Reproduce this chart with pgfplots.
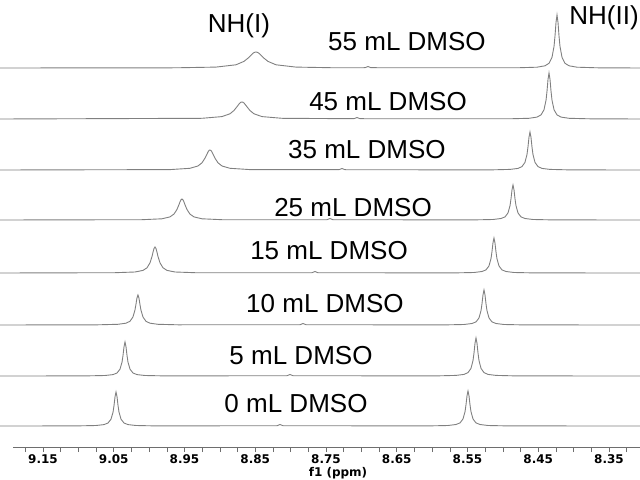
\documentclass[border=0pt]{standalone}
\usepackage{pgfplots}
\pgfplotsset{compat=1.18}
\usepackage{fontspec}
\setmainfont{Liberation Sans}
\newfontfamily\tickfont{DejaVu Sans}
\definecolor{trace}{RGB}{128,128,128}
\definecolor{axgray}{RGB}{110,110,110}
\tikzset{spec/.style={draw=trace, solid, line width=0.9pt, mark=none}}
\begin{document}
\begin{tikzpicture}
\begin{axis}[
  scale only axis, width=640pt, height=447pt,
  xmin=8.3062, xmax=9.2108, ymin=32, ymax=479,
  x dir=reverse,
  hide y axis,
  axis x line*=bottom,
  x axis line style={draw=none},
  clip=false,
  xtick={9.15,9.05,8.95,8.85,8.75,8.65,8.55,8.45,8.35},
  xticklabels={9.15,9.05,8.95,8.85,8.75,8.65,8.55,8.45,8.35},
  minor xtick={9.175,9.125,9.1,9.075,9.025,9.0,8.975,8.925,8.9,8.875,8.825,8.8,8.775,8.725,8.7,8.675,8.625,8.6,8.575,8.525,8.5,8.475,8.425,8.4,8.375,8.325},
  tick align=outside,
  major tick length=5pt, minor tick length=5pt,
  tick style={draw=axgray, line width=0.6pt},
  xticklabel style={font=\tickfont\bfseries\fontsize{12}{12}\selectfont, text=black, inner sep=2pt},
]
% 0 mL
\addplot[spec] coordinates {(9.2108,53)(9.1033,53.1)(9.0751,53.5)(9.0638,54.4)(9.0581,56.0)(9.0539,59.8)(9.0510,66.9)(9.0496,73.7)(9.0482,82.3)(9.0468,87)(9.0454,82.3)(9.0440,73.7)(9.0426,66.9)(9.0397,59.8)(9.0355,56.0)(9.0298,54.4)(9.0185,53.5)(8.9903,53.1)
(8.8192,53.3)(8.8150,54.5)(8.8108,53.3)
(8.6058,53.1)(8.5776,53.5)(8.5663,54.5)(8.5606,56.1)(8.5564,60.0)(8.5535,67.4)(8.5521,74.4)(8.5507,83.2)(8.5493,88)(8.5479,83.2)(8.5465,74.4)(8.5451,67.4)(8.5422,60.0)(8.5380,56.1)(8.5323,54.5)(8.5210,53.5)(8.4928,53.1)(8.3062,53)};
% 5 mL
\addplot[spec] coordinates {(9.2108,103)(9.0906,103.1)(9.0624,103.5)(9.0511,104.4)(9.0454,106.0)(9.0412,109.8)(9.0383,116.9)(9.0369,123.7)(9.0355,132.3)(9.0341,137)(9.0327,132.3)(9.0313,123.7)(9.0299,116.9)(9.0270,109.8)(9.0228,106.0)(9.0171,104.4)(9.0058,103.5)(8.9776,103.1)
(8.8051,103.3)(8.8009,104.5)(8.7967,103.3)
(8.5945,103.1)(8.5663,103.6)(8.5550,104.6)(8.5493,106.4)(8.5451,110.6)(8.5422,118.6)(8.5408,126.2)(8.5394,135.8)(8.5380,141)(8.5366,135.8)(8.5352,126.2)(8.5338,118.6)(8.5309,110.6)(8.5267,106.4)(8.5210,104.6)(8.5097,103.6)(8.4815,103.1)(8.3062,103)};
% 10 mL
\addplot[spec] coordinates {(9.2108,154)(9.0723,154.2)(9.0441,154.7)(9.0328,155.8)(9.0271,157.7)(9.0229,162.0)(9.0200,169)(9.0186,174.8)(9.0172,181)(9.0158,184)(9.0144,181)(9.0130,174.8)(9.0116,169)(9.0087,162.0)(9.0045,157.7)(8.9988,155.8)(8.9875,154.7)(8.9593,154.2)
(8.7867,154.3)(8.7825,155.5)(8.7783,154.3)
(8.5832,154.1)(8.5550,154.5)(8.5437,155.5)(8.5380,157.1)(8.5338,161.0)(8.5309,168.4)(8.5295,175.4)(8.5281,184.2)(8.5267,189)(8.5253,184.2)(8.5239,175.4)(8.5225,168.4)(8.5196,161.0)(8.5154,157.1)(8.5097,155.5)(8.4984,154.5)(8.4702,154.1)(8.3062,154)};
% 15 mL
\addplot[spec] coordinates {(9.2108,206)(9.0482,206.3)(9.0200,207.0)(9.0087,208.6)(9.0030,211.2)(8.9988,216.1)(8.9959,222.6)(8.9945,226.8)(8.9931,230.5)(8.9917,232)(8.9903,230.5)(8.9889,226.8)(8.9875,222.6)(8.9846,216.1)(8.9804,211.2)(8.9747,208.6)(8.9634,207.0)(8.9352,206.3)
(8.7698,206.3)(8.7656,207.5)(8.7614,206.3)
(8.5691,206.1)(8.5409,206.5)(8.5296,207.5)(8.5239,209.1)(8.5197,213.0)(8.5168,220.4)(8.5154,227.4)(8.5140,236.2)(8.5126,241)(8.5112,236.2)(8.5098,227.4)(8.5084,220.4)(8.5055,213.0)(8.5013,209.1)(8.4956,207.5)(8.4843,206.5)(8.4561,206.1)(8.3062,206)};
% 25 mL
\addplot[spec] coordinates {(9.2108,259)(9.0101,259.3)(8.9819,260.2)(8.9706,262.1)(8.9649,264.9)(8.9607,269.5)(8.9578,274.4)(8.9564,277.1)(8.9550,279.2)(8.9536,280)(8.9522,279.2)(8.9508,277.1)(8.9494,274.4)(8.9465,269.5)(8.9423,264.9)(8.9366,262.1)(8.9253,260.2)(8.8971,259.3)
(8.7486,259.3)(8.7444,260.5)(8.7402,259.3)
(8.5422,259.1)(8.5140,259.5)(8.5027,260.5)(8.4970,262.1)(8.4928,266.0)(8.4899,273.4)(8.4885,280.4)(8.4871,289.2)(8.4857,294)(8.4843,289.2)(8.4829,280.4)(8.4815,273.4)(8.4786,266.0)(8.4744,262.1)(8.4687,260.5)(8.4574,259.5)(8.4292,259.1)(8.3062,259)};
% 35 mL
\addplot[spec] coordinates {(9.2108,309)(8.9705,309.4)(8.9423,310.7)(8.9310,313)(8.9253,316.2)(8.9211,320.8)(8.9182,325)(8.9168,327)(8.9154,328.5)(8.9140,329)(8.9126,328.5)(8.9112,327)(8.9098,325)(8.9069,320.8)(8.9027,316.2)(8.8970,313)(8.8857,310.7)(8.8575,309.4)
(8.7316,309.3)(8.7274,310.5)(8.7232,309.3)
(8.5182,309.1)(8.4900,309.6)(8.4787,310.6)(8.4730,312.4)(8.4688,316.6)(8.4659,324.6)(8.4645,332.2)(8.4631,341.8)(8.4617,347)(8.4603,341.8)(8.4589,332.2)(8.4575,324.6)(8.4546,316.6)(8.4504,312.4)(8.4447,310.6)(8.4334,309.6)(8.4052,309.1)(8.3062,309)};
% 45 mL
\addplot[spec] coordinates {(9.2108,360)(8.9253,360.7)(8.8971,362.4)(8.8858,365.2)(8.8801,368.5)(8.8759,372.2)(8.8730,374.9)(8.8716,376)(8.8702,376.8)(8.8688,377)(8.8674,376.8)(8.8660,376)(8.8646,374.9)(8.8617,372.2)(8.8575,368.5)(8.8518,365.2)(8.8405,362.4)(8.8123,360.7)
(8.7104,360.3)(8.7062,361.5)(8.7020,360.3)
(8.4913,360.2)(8.4631,360.7)(8.4518,361.9)(8.4461,364.1)(8.4419,369.2)(8.4390,378.9)(8.4376,388.1)(8.4362,399.7)(8.4348,406)(8.4334,399.7)(8.4320,388.1)(8.4306,378.9)(8.4277,369.2)(8.4235,364.1)(8.4178,361.9)(8.4065,360.7)(8.3783,360.2)(8.3062,360)};
% 55 mL
\addplot[spec] coordinates {(9.2108,411)(8.9621,411.2)(8.9055,411.9)(8.8773,414.2)(8.8660,417.6)(8.8603,420.8)(8.8561,423.8)(8.8532,425.7)(8.8518,426.4)(8.8504,426.8)(8.8490,427)(8.8476,426.8)(8.8462,426.4)(8.8448,425.7)(8.8419,423.8)(8.8377,420.8)(8.8320,417.6)(8.8207,414.2)(8.7925,411.9)(8.7360,411.2)
(8.6949,411.3)(8.6907,412.5)(8.6865,411.3)
(8.4800,411.2)(8.4518,411.8)(8.4405,413.2)(8.4348,415.7)(8.4306,421.6)(8.4277,432.7)(8.4263,443.3)(8.4249,456.7)(8.4235,464)(8.4221,456.7)(8.4207,443.3)(8.4193,432.7)(8.4164,421.6)(8.4122,415.7)(8.4065,413.2)(8.3952,411.8)(8.3670,411.2)(8.3062,411)};
% axis line
\draw[axgray, line width=0.6pt] (axis cs:9.192,32) -- (axis cs:8.3062,32);
% labels
\begin{scope}[every node/.style={font=\fontsize{26}{26}\selectfont, anchor=base, inner sep=0pt}]
\node at (axis description cs:0.6359,0.8881) {55 mL DMSO};
\node at (axis description cs:0.6063,0.7539) {45 mL DMSO};
\node at (axis description cs:0.5734,0.6443) {35 mL DMSO};
\node at (axis description cs:0.5516,0.5157) {25 mL DMSO};
\node at (axis description cs:0.5141,0.4195) {15 mL DMSO};
\node at (axis description cs:0.5078,0.3009) {10 mL DMSO};
\node at (axis description cs:0.4703,0.1846) {5 mL DMSO};
\node at (axis description cs:0.4625,0.0783) {0 mL DMSO};
\node at (axis description cs:0.3734,0.9262) {NH(I)};
\node at (axis description cs:0.9438,0.9441) {NH(II)};
\end{scope}
\node[font=\tickfont\bfseries\fontsize{12}{12}\selectfont, anchor=center, inner sep=0pt] at (axis description cs:0.5281,-0.0582) {f1 (ppm)};
\end{axis}
\pgfresetboundingbox
\path[use as bounding box] ([yshift=-32pt]current axis.south west) rectangle (current axis.north east);
\end{tikzpicture}
\end{document}
